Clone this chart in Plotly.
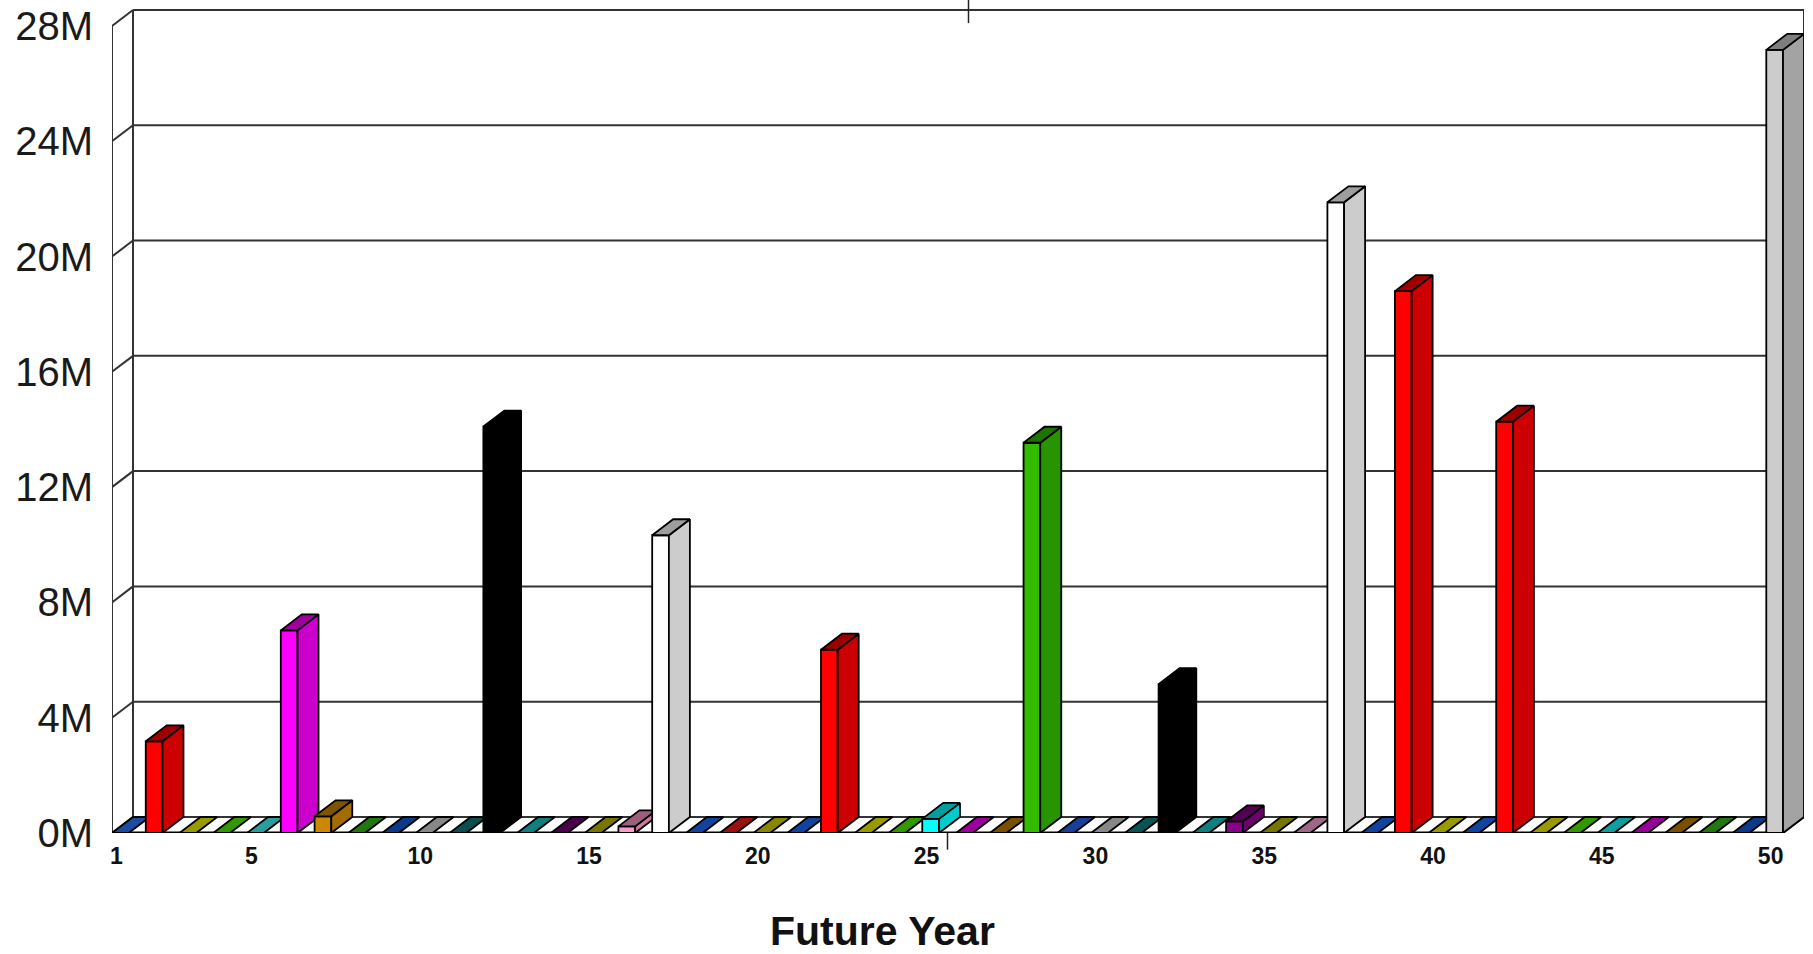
import plotly.graph_objects as go

# Future-year amounts (one bar per year)
years = list(range(1, 51))
values = [
    0, 3_180_000, 0, 0, 0, 7_030_000, 580_000, 0, 0, 0,
    0, 14_100_000, 0, 0, 0, 230_000, 10_330_000, 0, 0, 0,
    0, 6_360_000, 0, 0, 490_000, 0, 0, 13_540_000, 0, 0,
    0, 5_160_000, 0, 400_000, 0, 0, 21_880_000, 0, 18_800_000, 0,
    0, 14_270_000, 0, 0, 0, 0, 0, 0, 0, 27_170_000,
]
y_tick_vals = [0, 4_000_000, 8_000_000, 12_000_000, 16_000_000, 20_000_000, 24_000_000, 28_000_000]
y_tick_text = ["0M", "4M", "8M", "12M", "16M", "20M", "24M", "28M"]
x_tick_vals = [1, 5, 10, 15, 20, 25, 30, 35, 40, 45, 50]
x_tick_text = [str(v) for v in x_tick_vals]

# Face colour of each year's bar
bar_colors = [
    "#3079FF", "#FF0000", "#F8F800", "#52F800", "#44FFFF", "#FF00FF", "#CC8800", "#37C01B", "#125EDF", "#DBDBDB",
    "#108181", "#000000", "#1ACECE", "#770077", "#C0C000", "#FF99CC", "#FFFFFF", "#1B6EFF", "#FF1A1A", "#DBDB00",
    "#1B6EFF", "#FF0000", "#F8F800", "#52F800", "#00FFFF", "#FF00FF", "#C58100", "#33BB00", "#2A66F8", "#DBDBDB",
    "#108989", "#000000", "#1ACECE", "#880088", "#C0C000", "#FFA5DB", "#FFFFFF", "#1B6EFF", "#FF0000", "#F8F800",
    "#1B6EFF", "#FF0000", "#F8F800", "#52F800", "#1BFFFF", "#F700F7", "#C58100", "#37C01B", "#125EDF", "#CCCCCC",
]

BAR_W = 0.495          # bar face width, in category units
DEPTH_X = 0.622        # oblique depth offset along x (category units)
DEPTH_Y = 555_000      # oblique depth offset along y (value units)
Y_TOP = 28_900_000
TOP_VAL = y_tick_vals[-1]

x_front_left = years[0] - BAR_W / 2
x_front_right = years[-1] + BAR_W / 2
x_back_left = x_front_left + DEPTH_X
x_back_right = x_front_right + DEPTH_X


def shade(hex_color, f):
    h = hex_color.lstrip("#")
    r, g, b = (int(h[i:i + 2], 16) for i in (0, 2, 4))
    return "rgb({},{},{})".format(int(r * f), int(g * f), int(b * f))


fig = go.Figure()

OUTLINE = dict(color="#000000", width=1.8)

for year, val, col in zip(years, values, bar_colors):
    left = year - BAR_W / 2
    right = year + BAR_W / 2
    if val > 0:
        # front face
        fig.add_trace(go.Scatter(
            x=[left, right, right, left, left], y=[0, 0, val, val, 0],
            mode="lines", fill="toself", fillcolor=col, line=OUTLINE,
            hoverinfo="text", text=f"{year}: {val/1e6:.2f}M", showlegend=False))
        # right side face
        fig.add_trace(go.Scatter(
            x=[right, right + DEPTH_X, right + DEPTH_X, right, right],
            y=[0, DEPTH_Y, val + DEPTH_Y, val, 0],
            mode="lines", fill="toself", fillcolor=shade(col, 0.8), line=OUTLINE,
            hoverinfo="skip", showlegend=False))
    # top face (the floor slab when the value is zero)
    fig.add_trace(go.Scatter(
        x=[left, right, right + DEPTH_X, left + DEPTH_X, left],
        y=[val, val, val + DEPTH_Y, val + DEPTH_Y, val],
        mode="lines", fill="toself", fillcolor=shade(col, 0.62), line=OUTLINE,
        hoverinfo="text", text=f"{year}: {val/1e6:.2f}M", showlegend=False))

shapes = []
WALL = dict(color="#333333", width=2)
for v in y_tick_vals:
    # back-wall gridline and its link to the front value axis
    shapes.append(dict(type="line", xref="x", yref="y", layer="below",
                       x0=x_back_left, y0=v + DEPTH_Y, x1=x_back_right, y1=v + DEPTH_Y, line=WALL))
    shapes.append(dict(type="line", xref="x", yref="y", layer="below",
                       x0=x_front_left, y0=v, x1=x_back_left, y1=v + DEPTH_Y, line=WALL))
shapes += [
    dict(type="line", xref="x", yref="y", layer="below",
         x0=x_back_left, y0=DEPTH_Y, x1=x_back_left, y1=TOP_VAL + DEPTH_Y, line=WALL),
    dict(type="line", xref="x", yref="y", layer="below",
         x0=x_back_right, y0=DEPTH_Y, x1=x_back_right, y1=TOP_VAL + DEPTH_Y, line=WALL),
    dict(type="line", xref="x", yref="y", layer="below",
         x0=x_front_left, y0=0, x1=x_front_left, y1=TOP_VAL, line=WALL),
    dict(type="line", xref="x", yref="y", layer="below",
         x0=x_front_right, y0=0, x1=x_back_right, y1=DEPTH_Y, line=WALL),
    dict(type="line", xref="x", yref="y", layer="below",
         x0=x_front_left, y0=0, x1=x_front_right, y1=0, line=dict(color="#000000", width=3)),
    # centre marks of the category axis (front bottom and back top)
    dict(type="line", xref="x", yref="y", layer="above",
         x0=(x_front_left + x_front_right) / 2 + DEPTH_X, y0=28_100_000,
         x1=(x_front_left + x_front_right) / 2 + DEPTH_X, y1=Y_TOP,
         line=dict(color="#222222", width=1.5)),
    dict(type="line", xref="x", yref="paper", layer="above",
         x0=(x_front_left + x_front_right) / 2, y0=0,
         x1=(x_front_left + x_front_right) / 2, y1=-0.02,
         line=dict(color="#222222", width=1.5)),
]

fig.update_layout(
    width=1813, height=954,
    margin=dict(l=112, r=9, t=0, b=121),
    paper_bgcolor="white", plot_bgcolor="white",
    showlegend=False,
    shapes=shapes,
    xaxis=dict(range=[x_front_left, x_back_right], showgrid=False, zeroline=False,
               showline=False, tickmode="array", tickvals=x_tick_vals, ticktext=x_tick_text,
               ticks="", ticklabelstandoff=7, ticklabelshift=-4,
               tickfont=dict(family="Liberation Sans, Arial", size=23, color="#111111", weight="bold")),
    yaxis=dict(range=[0, Y_TOP], showgrid=False, zeroline=False, showline=False,
               tickmode="array", tickvals=y_tick_vals, ticktext=y_tick_text,
               ticks="", ticklabelstandoff=18,
               tickfont=dict(family="Liberation Sans, Arial", size=40, color="#1a1a1a")),
    annotations=[dict(text="<b>Future Year</b>", xref="paper", yref="paper",
                      x=(882 - 112) / 1692, y=-0.118, xanchor="center", yanchor="middle",
                      showarrow=False,
                      font=dict(family="Liberation Sans, Arial", size=41, color="#111111"))],
)

fig.write_html("out.html")
